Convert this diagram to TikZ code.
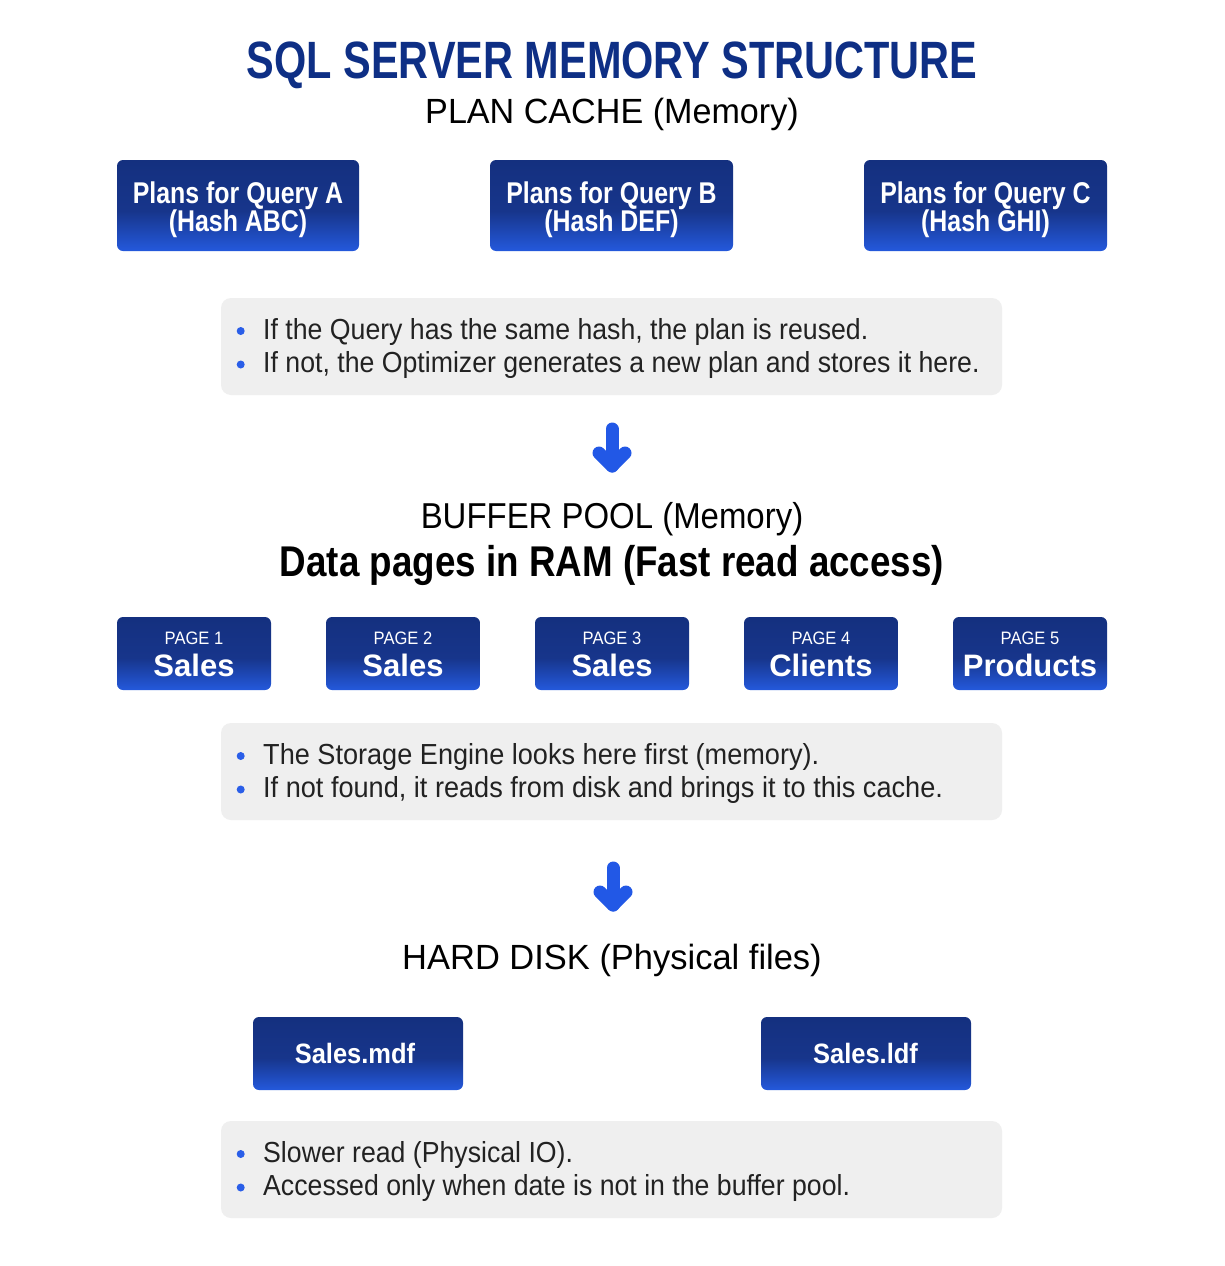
\documentclass[tikz,border=0pt]{standalone}
\usepackage{fontspec}
\setmainfont{Liberation Sans}
\usetikzlibrary{calc}
\definecolor{titleblue}{HTML}{0E2F85}
\definecolor{btop}{HTML}{14307F}
\definecolor{bdark}{HTML}{17358B}
\definecolor{bbot}{HTML}{2459DC}
\definecolor{graybg}{HTML}{EFEFEF}
\definecolor{dotblue}{HTML}{2A5EE8}
\definecolor{arrblue}{HTML}{2258E6}
\definecolor{txt}{HTML}{222222}
\newcommand\fnt[3]{\fontsize{#1}{#2}\selectfont\addfontfeatures{FakeStretch=#3}}
\pgfdeclareverticalshading{btnshade}{100bp}{color(0bp)=(bbot); color(25bp)=(bbot); color(47bp)=(bdark); color(75bp)=(btop); color(100bp)=(btop)}
\begin{document}
\begin{tikzpicture}[x=1pt,y=-1pt,
  bluebox/.style={shading=btnshade, rounded corners=6pt, inner sep=0pt, draw=none},
  graybox/.style={fill=graybg, rounded corners=10pt, minimum width=781pt, minimum height=97pt, inner sep=0pt},
  boxtxt/.style={anchor=base, text=white, inner sep=0pt, font=\bfseries\fnt{30}{30}{0.83}},
  pagelbl/.style={anchor=base, text=white, inner sep=0pt, font=\fnt{18}{18}{0.92}},
  pagename/.style={anchor=base, text=white, inner sep=0pt, font=\bfseries\fnt{31}{31}{1.0}},
  bul/.style={anchor=base west, text=txt, inner sep=0pt, font=\fnt{29}{29}{0.92}},
  dot/.style={circle, fill=dotblue, minimum size=8pt, inner sep=0pt},
  heading/.style={anchor=base, text=black, inner sep=0pt},
  arr/.style={draw=arrblue, line width=13pt, line cap=round, line join=round}
]
\useasboundingbox (0,0) rectangle (1224,1266);
\fill[white] (0,0) rectangle (1224,1266);

% Title
\node[anchor=base, text=titleblue, inner sep=0pt, font=\bfseries\fnt{52.5}{52.5}{0.79}] (title) at (612,78.5) {SQL SERVER MEMORY STRUCTURE};
\node[heading, font=\fnt{35}{35}{0.975}] (plancache) at (612,123.3) {PLAN CACHE (Memory)};

% Plan boxes
\node[bluebox, minimum width=242pt, minimum height=91pt] (qa) at (238,205.5) {};
\node[bluebox, minimum width=243pt, minimum height=91pt] (qb) at (611.5,205.5) {};
\node[bluebox, minimum width=243pt, minimum height=91pt] (qc) at (985.5,205.5) {};
\node[boxtxt] (qa1) at (238,203.3) {Plans for Query A};
\node[boxtxt] (qa2) at (238,231.3) {(Hash ABC)};
\node[boxtxt] (qb1) at (611.5,203.3) {Plans for Query B};
\node[boxtxt] (qb2) at (611.5,231.3) {(Hash DEF)};
\node[boxtxt] (qc1) at (985.5,203.3) {Plans for Query C};
\node[boxtxt] (qc2) at (985.5,231.3) {(Hash GHI)};

% Gray box 1
\node[graybox] (g1) at (611.5,346.5) {};
\node[dot] (g1d1) at (240.7,331) {};
\node[dot] (g1d2) at (240.7,364.5) {};
\node[bul] (g1t1) at (263,339.3) {If the Query has the same hash, the plan is reused.};
\node[bul] (g1t2) at (263,372.5) {If not, the Optimizer generates a new plan and stores it here.};

% Arrow 1
\coordinate (a1s) at (612,429);
\coordinate (a1e) at (612,466);
\draw[arr] (a1s) -- (a1e);
\draw[arr] ($(a1e)+(-13,-13)$) -- (a1e) -- ($(a1e)+(13,-13)$);

% Buffer pool
\node[heading, font=\fnt{36}{36}{0.915}] (bp) at (612,528.5) {BUFFER POOL (Memory)};
\node[anchor=base, text=black, inner sep=0pt, font=\bfseries\fnt{43}{43}{0.855}] (dp) at (612,576.5) {Data pages in RAM (Fast read access)};

% Pages
\foreach \i/\x/\nm in {1/194/Sales, 2/403/Sales, 3/612/Sales, 4/821/Clients, 5/1030/Products}{
  \node[bluebox, minimum width=154pt, minimum height=73pt] (p\i) at (\x,653.5) {};
  \node[pagelbl] (p\i l) at (\x,644.3) {PAGE \i};
  \node[pagename] (p\i n) at (\x,676) {\nm};
}

% Gray box 2
\node[graybox] (g2) at (611.5,771.5) {};
\node[dot] (g2d1) at (240.7,756) {};
\node[dot] (g2d2) at (240.7,789.5) {};
\node[bul, font=\fnt{29}{29}{0.935}] (g2t1) at (263,764.3) {The Storage Engine looks here first (memory).};
\node[bul, font=\fnt{29}{29}{0.935}] (g2t2) at (263,797.5) {If not found, it reads from disk and brings it to this cache.};

% Arrow 2
\coordinate (a2s) at (613,868);
\coordinate (a2e) at (613,905);
\draw[arr] (a2s) -- (a2e);
\draw[arr] ($(a2e)+(-13,-13)$) -- (a2e) -- ($(a2e)+(13,-13)$);

% Hard disk
\node[heading, font=\fnt{35}{35}{0.985}] (hd) at (612,969) {HARD DISK (Physical files)};
\node[bluebox, minimum width=210pt, minimum height=73pt] (mdf) at (358,1053.5) {};
\node[bluebox, minimum width=210pt, minimum height=73pt] (ldf) at (866,1053.5) {};
\node[boxtxt, font=\bfseries\fnt{28}{28}{0.91}] (mdft) at (355,1063.3) {Sales.mdf};
\node[boxtxt, font=\bfseries\fnt{28}{28}{0.91}] (ldft) at (865.5,1063.3) {Sales.ldf};

% Gray box 3
\node[graybox] (g3) at (611.5,1169.5) {};
\node[dot] (g3d1) at (240.7,1154) {};
\node[dot] (g3d2) at (240.7,1187.5) {};
\node[bul] (g3t1) at (263,1162.3) {Slower read (Physical IO).};
\node[bul] (g3t2) at (263,1195.5) {Accessed only when date is not in the buffer pool.};
\end{tikzpicture}
\end{document}
